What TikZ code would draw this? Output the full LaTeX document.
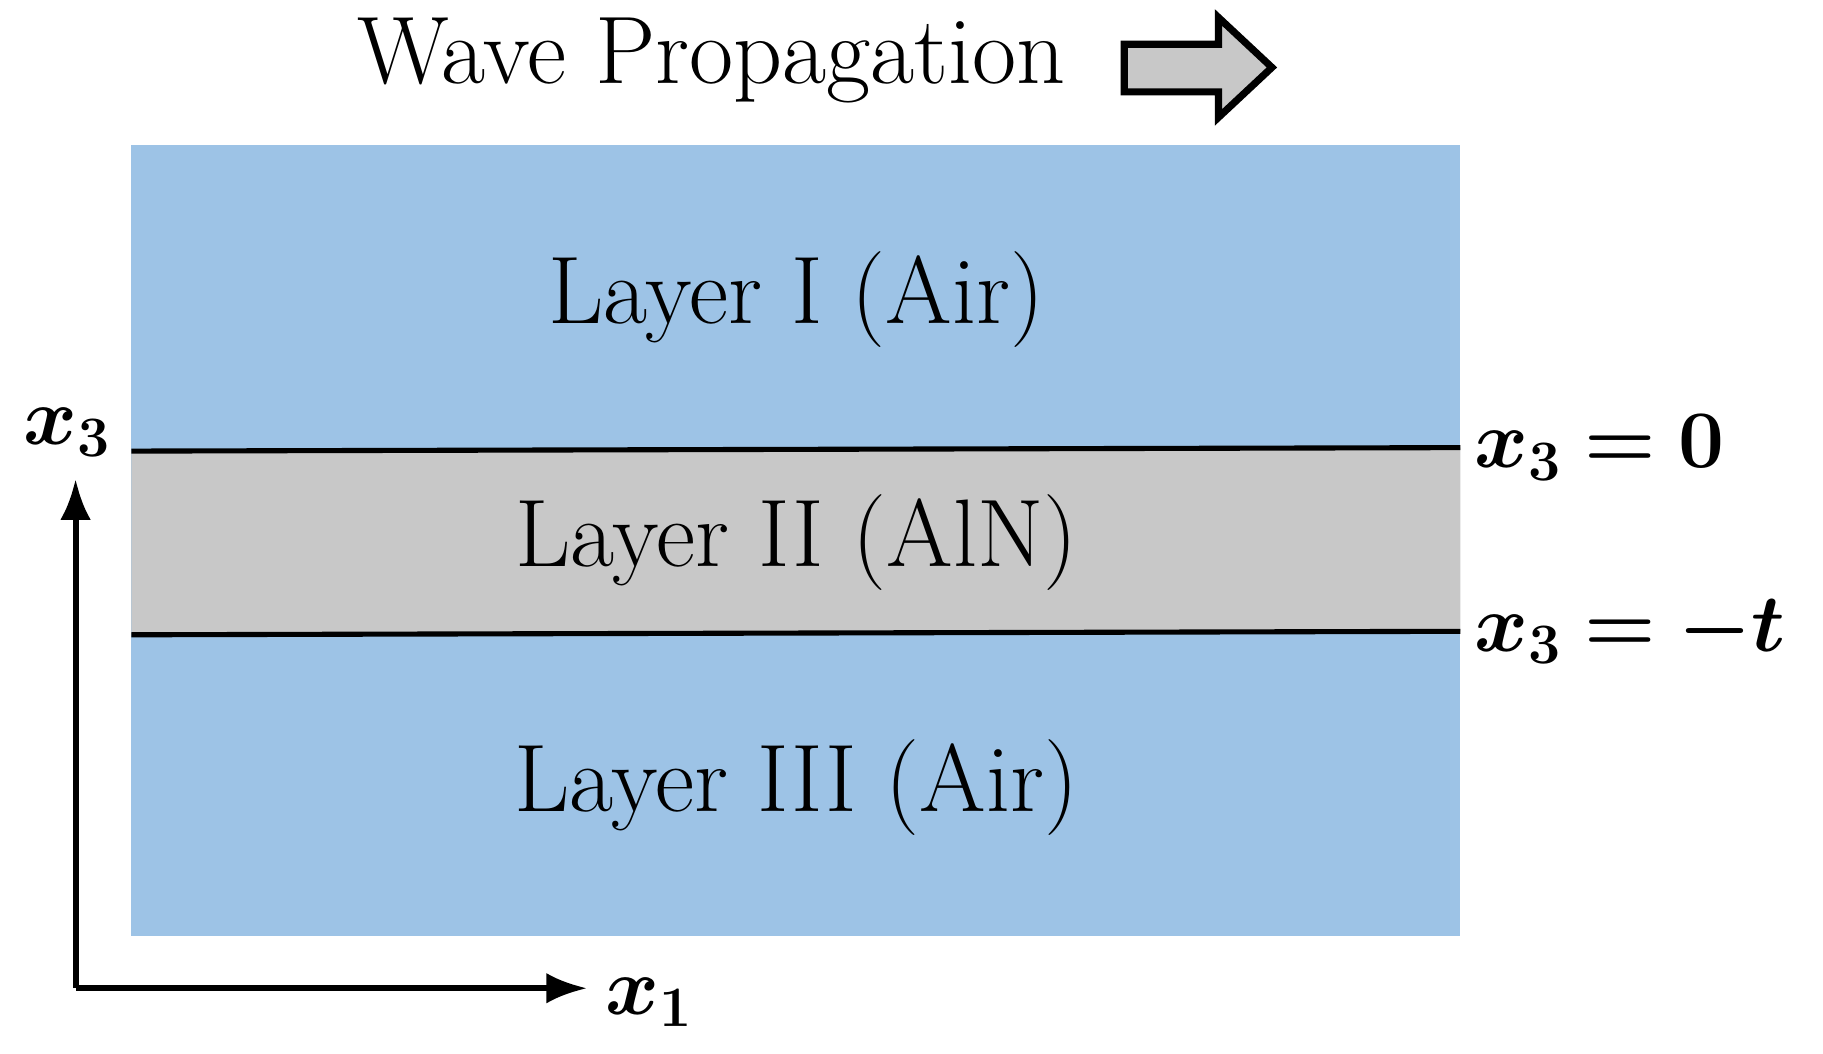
\RequirePackage{fix-cm}
\documentclass[tikz,border=0pt]{standalone}
\usepackage{amsmath,bm}
\usetikzlibrary{arrows.meta}
\definecolor{airblue}{HTML}{9DC3E6}
\definecolor{alngray}{HTML}{C8C8C8}
\begin{document}
\begin{tikzpicture}[x=0.02cm,y=-0.02cm,
  lab/.style={font=\fontsize{47}{56}\selectfont},
  mlab/.style={font=\fontsize{40}{48}\selectfont,anchor=west},
  ax/.style={line width=3pt,-{Latex[length=20pt,width=15pt]}}]
\useasboundingbox (0,0) rectangle (1568,906);
\fill[airblue] (113,125) rectangle (1256,805);
\fill[alngray] (113,388) -- (1256,385) -- (1256,543) -- (113,546) -- cycle;
\coordinate (l1a) at (113,388); \coordinate (l1b) at (1256,385);
\coordinate (l2a) at (113,546); \coordinate (l2b) at (1256,543);
\draw[line width=2.5pt] (l1a) -- (l1b);
\draw[line width=2.5pt] (l2a) -- (l2b);
\node[lab] (t1) at (685,258) {Layer I (Air)};
\node[lab] (t2) at (685,467) {Layer II (AlN)};
\node[lab] (t3) at (685,677) {Layer III (Air)};
\node[lab] (title) at (612,52) {Wave Propagation};
\node[mlab] (m0) at (1262,385) {$\bm{x_3 = 0}$};
\node[mlab] (mt) at (1262,543) {$\bm{x_3 = -t}$};
\coordinate (o) at (65,850);
\coordinate (ytip) at (65,412);
\coordinate (xtip) at (505,850);
\draw[ax] (o) -- (ytip);
\draw[ax] (o) -- (xtip);
\node[font=\fontsize{40}{48}\selectfont] (x3) at (58,372) {$\bm{x_3}$};
\node[font=\fontsize{40}{48}\selectfont] (x1) at (558,862) {$\bm{x_1}$};
\draw[line width=3.5pt,fill=alngray,line join=miter]
  (967,38) -- (1048,38) -- (1048,15) -- (1094,58) -- (1048,101) -- (1048,79) -- (967,79) -- cycle;
\end{tikzpicture}
\end{document}
